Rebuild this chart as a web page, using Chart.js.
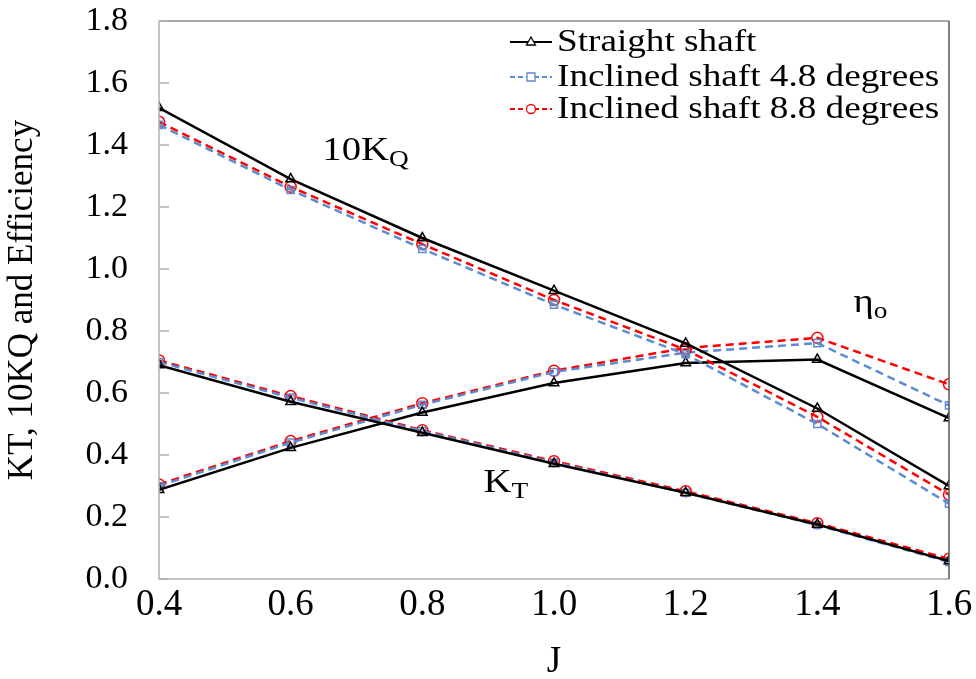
<!DOCTYPE html>
<html>
<head>
<meta charset="utf-8">
<script src="https://cdn.jsdelivr.net/npm/chart.js@4.4.1/dist/chart.umd.min.js"></script>
<style>
html,body{margin:0;padding:0;background:#fff;}
#wrap{width:976px;height:679px;position:relative;}
</style>
</head>
<body>
<div id="wrap"><canvas id="c" width="976" height="679"></canvas></div>
<script>
// ---- data ----
const J = [0.4, 0.6, 0.8, 1.0, 1.2, 1.4, 1.6];
const seriesNames = ["Straight shaft", "Inclined shaft 4.8 degrees", "Inclined shaft 8.8 degrees"];

const kq10Straight = [1.52, 1.29, 1.10, 0.93, 0.76, 0.55, 0.30];
const kq10Incl48   = [1.465, 1.255, 1.065, 0.885, 0.725, 0.50, 0.243];
const kq10Incl88   = [1.475, 1.265, 1.08, 0.90, 0.74, 0.523, 0.272];

const ktStraight = [0.69, 0.572, 0.472, 0.372, 0.278, 0.176, 0.058];
const ktIncl48   = [0.70, 0.585, 0.477, 0.376, 0.278, 0.174, 0.055];
const ktIncl88   = [0.705, 0.59, 0.48, 0.38, 0.283, 0.18, 0.065];

const etaStraight = [0.288, 0.423, 0.537, 0.632, 0.697, 0.708, 0.519];
const etaIncl48   = [0.30, 0.44, 0.562, 0.668, 0.73, 0.761, 0.56];
const etaIncl88   = [0.305, 0.445, 0.567, 0.672, 0.745, 0.778, 0.628];

const yTicks = [0, 0.2, 0.4, 0.6, 0.8, 1.0, 1.2, 1.4, 1.6, 1.8];

const FONT = "'Liberation Serif', serif";
const BLACK = "#000000", BLUE = "#5B8BD0", RED = "#FF0000";

const styles = [
  {color: BLACK, dash: [], point: 'triangle'},
  {color: BLUE, dash: [8, 5], point: 'rect'},
  {color: RED, dash: [8, 5], point: 'circle'}
];

function pts(arr){ return J.map((x,i)=>({x:x, y:arr[i]})); }
function mk(arr, s, label){
  const st = styles[s];
  return {
    label: label, data: pts(arr),
    borderColor: st.color, borderWidth: 2.5, borderDash: st.dash,
    pointStyle: st.point, pointRadius: st.point==='rect'?5:5.5,
    pointBorderColor: st.color, pointBackgroundColor: 'rgba(255,255,255,0)',
    pointBorderWidth: 1.5, fill: false, tension: 0
  };
}
const groups = [
  [kq10Straight, kq10Incl48, kq10Incl88],
  [ktStraight, ktIncl48, ktIncl88],
  [etaStraight, etaIncl48, etaIncl88]
];
const datasets = [];
groups.forEach(g => g.forEach((arr, s) => datasets.push(mk(arr, s, seriesNames[s]))));

// annotations: [text, subscript, J, y]
const annotations = [
  ["10K", "Q", 0.648, 1.39],
  ["K", "T", 0.893, 0.32],
  ["\u03B7", "o", 1.455, 0.90]
];

function stretchedText(ctx, text, x, y, sx){
  ctx.save();
  ctx.translate(x, y);
  ctx.scale(sx, 1);
  ctx.fillText(text, 0, 0);
  ctx.restore();
  return ctx.measureText(text).width * sx;
}

const decor = {
  id: 'decor',
  afterDraw(chart){
    const {ctx, chartArea: a, scales} = chart;
    ctx.save();
    // frame
    ctx.lineWidth = 1.5;
    ctx.strokeStyle = '#B0B0B0';
    ctx.beginPath();
    ctx.moveTo(a.left, a.top); ctx.lineTo(a.left, a.bottom); ctx.lineTo(a.right, a.bottom);
    ctx.stroke();
    ctx.strokeStyle = '#8A8A8A';
    ctx.beginPath(); ctx.moveTo(a.left, a.top); ctx.lineTo(a.right, a.top); ctx.stroke();
    ctx.strokeStyle = '#555555';
    ctx.beginPath(); ctx.moveTo(a.right, a.top); ctx.lineTo(a.right, a.bottom); ctx.stroke();
    // inner ticks on y axis
    ctx.strokeStyle = '#B0B0B0';
    yTicks.forEach(v => {
      const y = scales.y.getPixelForValue(v);
      ctx.beginPath(); ctx.moveTo(a.left, y); ctx.lineTo(a.left + 10, y); ctx.stroke();
    });
    // annotations
    ctx.fillStyle = '#000';
    ctx.textBaseline = 'alphabetic';
    ctx.textAlign = 'left';
    annotations.forEach(([t, sub, xv, yv]) => {
      const x = scales.x.getPixelForValue(xv), y = scales.y.getPixelForValue(yv) + 12;
      ctx.font = "34px " + FONT;
      const w = stretchedText(ctx, t, x, y, 1.14);
      ctx.font = "24px " + FONT;
      stretchedText(ctx, sub, x + w, y + 6, 1.14);
    });
    // legend
    const lx = 510, lx2 = 552, rows = [42, 77, 109];
    rows.forEach((ry, s) => {
      const st = styles[s];
      ctx.strokeStyle = st.color; ctx.lineWidth = 2.2; ctx.setLineDash(st.dash.length ? [5, 3] : []);
      ctx.beginPath(); ctx.moveTo(lx, ry); ctx.lineTo(lx2, ry); ctx.stroke();
      ctx.setLineDash([]);
      ctx.lineWidth = 1.3;
      const cx = (lx + lx2) / 2;
      ctx.fillStyle = '#fff';
      ctx.beginPath();
      if (st.point === 'triangle') { ctx.moveTo(cx, ry - 5); ctx.lineTo(cx + 4.5, ry + 3); ctx.lineTo(cx - 4.5, ry + 3); ctx.closePath(); }
      else if (st.point === 'rect') { ctx.rect(cx - 4, ry - 4, 8, 8); }
      else { ctx.arc(cx, ry, 4.5, 0, Math.PI * 2); }
      ctx.fill(); ctx.stroke();
      ctx.fillStyle = '#000';
      ctx.textAlign = 'left'; ctx.textBaseline = 'middle';
      ctx.font = "31px " + FONT;
      stretchedText(ctx, seriesNames[s], 557, ry + 1, 1.2);
    });
    ctx.restore();
  }
};

function build(){
  new Chart(document.getElementById('c'), {
    type: 'line',
    data: { datasets: datasets },
    options: {
      responsive: false, animation: false, devicePixelRatio: 1,
      layout: { padding: { top: 21, right: 27, left: 0, bottom: 0 } },
      plugins: { legend: { display: false }, tooltip: { enabled: false } },
      scales: {
        x: {
          type: 'linear', min: 0.4, max: 1.6,
          border: { display: false },
          grid: { display: false, drawTicks: false },
          ticks: { padding: 4, color: '#000', font: { family: FONT, size: 37 },
            callback: v => Number(v).toFixed(1) },
          afterBuildTicks: s => { s.ticks = J.map(v => ({value: v})); },
          title: { display: true, text: 'J', color: '#000', font: { family: FONT, size: 37, lineHeight: 0.9 }, padding: { top: 0, bottom: 0 } },
          afterFit: s => { s.height = 100; s.paddingLeft = 0; s.paddingRight = 0; }
        },
        y: {
          type: 'linear', min: 0, max: 1.8,
          border: { display: false },
          grid: { display: false, drawTicks: false },
          ticks: { padding: 31, color: '#000', font: { family: FONT, size: 34 },
            callback: v => Number(v).toFixed(1) },
          afterBuildTicks: s => { s.ticks = yTicks.map(v => ({value: v})); },
          title: { display: true, text: 'KT, 10KQ and Efficiency', color: '#000', font: { family: FONT, size: 35 }, padding: { top: 2, bottom: 0 } },
          afterFit: s => { s.width = 159; s.paddingTop = 0; s.paddingBottom = 0; }
        }
      }
    },
    plugins: [decor]
  });
}
const fl = document.fonts ? Promise.all([
  document.fonts.load("34px 'Liberation Serif'"),
  document.fonts.load("24px 'Liberation Serif'")
]).catch(()=>{}) : Promise.resolve();
fl.then(build, build);
</script>
</body>
</html>
